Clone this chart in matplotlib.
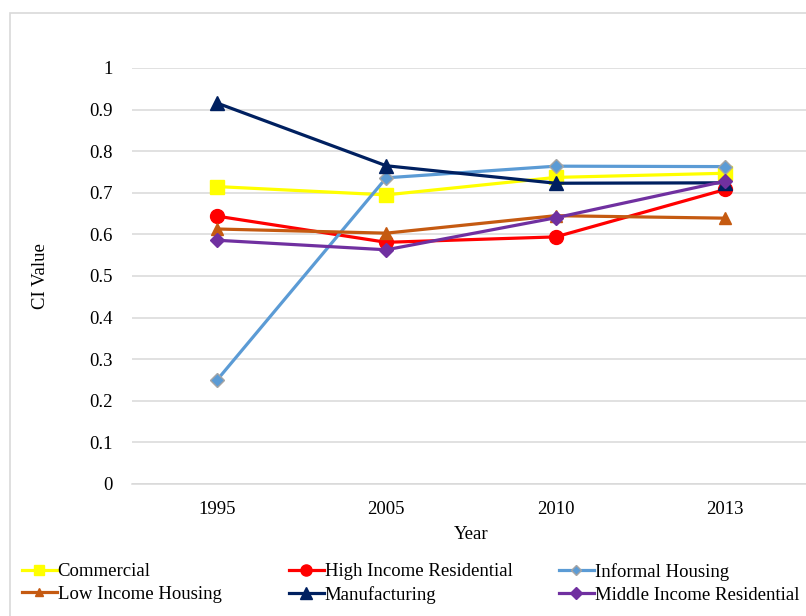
import matplotlib.pyplot as plt
from matplotlib.patches import Rectangle
from matplotlib.lines import Line2D

plt.rcParams['font.family'] = ['Liberation Serif', 'DejaVu Serif']

years = ["1995", "2005", "2010", "2013"]
commercial = [0.715, 0.695, 0.737, 0.747]
high_income = [0.644, 0.581, 0.594, 0.708]
informal = [0.249, 0.736, 0.764, 0.763]
low_income = [0.613, 0.603, 0.645, 0.639]
manufacturing = [0.916, 0.765, 0.723, 0.724]
middle_income = [0.586, 0.563, 0.640, 0.728]

series = [
    ("Commercial", commercial, "#ffff00", "s", 9.5, "#ffff00"),
    ("High Income Residential", high_income, "#ff0000", "o", 10, "#ff0000"),
    ("Informal Housing", informal, "#5b9bd5", "D", 7, "#a5a5a5"),
    ("Low Income Housing", low_income, "#c55a11", "^", 8, "#c55a11"),
    ("Manufacturing", manufacturing, "#002060", "^", 10, "#002060"),
    ("Middle Income Residential", middle_income, "#7030a0", "D", 7.5, "#7030a0"),
]

fig = plt.figure(figsize=(8.06, 6.16), dpi=100)
fig.patches.append(Rectangle((10 / 806, -0.1), 1.2, 1 - 13 / 616 + 0.1,
                             transform=fig.transFigure, fill=False,
                             edgecolor="#d9d9d9", linewidth=1.2))

ax = fig.add_axes([132 / 806, 1 - 484 / 616, 678 / 806, 416 / 616])
x = range(len(years))
handles = []
for name, vals, col, mk, ms, ec in series:
    ax.plot(x, vals, color=col, linewidth=2.3, marker=mk, markersize=ms,
            markeredgecolor=ec, markerfacecolor=col, markeredgewidth=1)
    handles.append(Line2D([], [], color=col, linewidth=2.3, marker=mk,
                          markersize=ms * 0.8, markeredgecolor=ec,
                          markerfacecolor=col, label=name))

ax.set_xlim(-0.5, 3.5)
ax.set_ylim(0, 1)
ax.set_xticks(list(x))
ax.set_xticklabels(years)
ax.set_yticks([i / 10 for i in range(11)])
ax.set_yticklabels(["0"] + [f"{i / 10:.1f}" for i in range(1, 10)] + ["1"])
ax.grid(axis="y", color="#d9d9d9", linewidth=1.1)
ax.set_axisbelow(True)
for s in ["top", "right", "left"]:
    ax.spines[s].set_visible(False)
ax.spines["bottom"].set_color("#d9d9d9")
ax.spines["bottom"].set_linewidth(1.1)
ax.tick_params(length=0, labelsize=13.5)
ax.tick_params(axis="y", pad=14)
ax.tick_params(axis="x", pad=12)
ax.set_xlabel("Year", fontsize=13.5, labelpad=6)
ax.set_ylabel("CI Value", fontsize=13.5, labelpad=29)

# legend: three equal-width columns like the original
col_x = [22, 289, 559]
for i in range(3):
    fig.legend(handles=[handles[i], handles[i + 3]], loc="upper left",
               bbox_to_anchor=(col_x[i] / 806, 1 - 563 / 616),
               frameon=False, fontsize=13.5, handlelength=1.85,
               handletextpad=0.05, labelspacing=0.3, borderaxespad=0,
               borderpad=0)

fig.savefig("out.png", dpi=100)
